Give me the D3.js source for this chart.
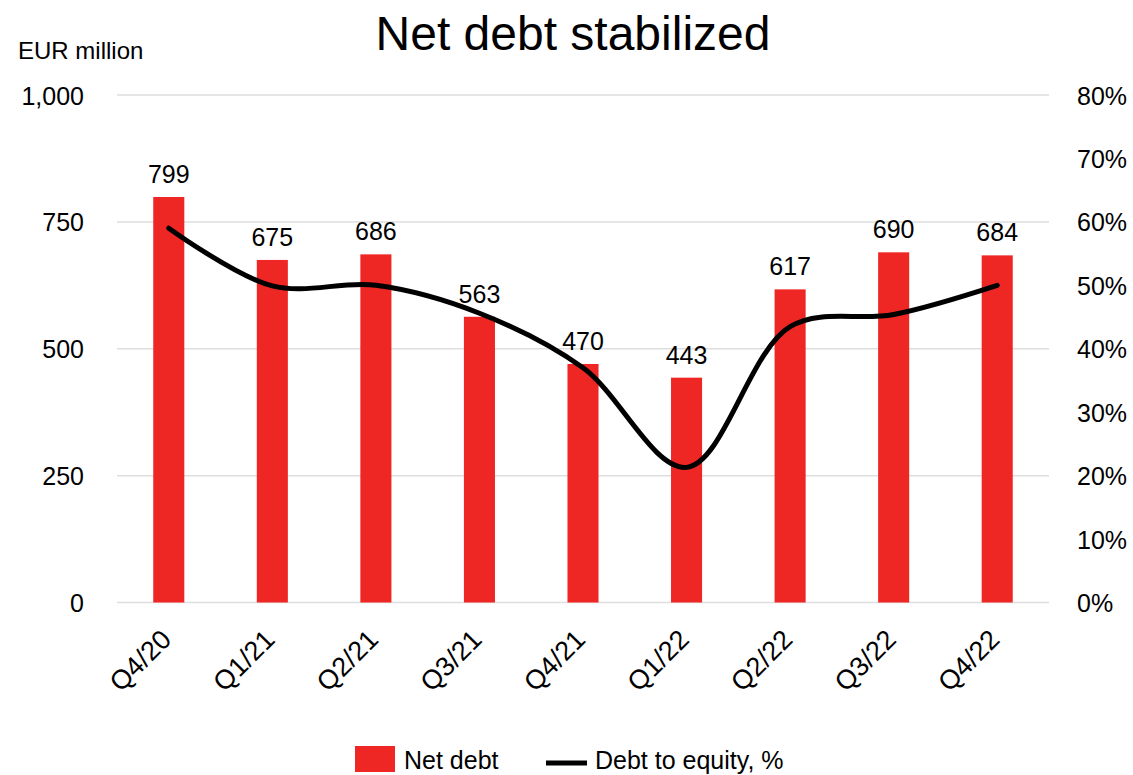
<!DOCTYPE html>
<html>
<head>
<meta charset="utf-8">
<script src="https://cdn.jsdelivr.net/npm/d3@7"></script>
<style>
  html, body { margin: 0; padding: 0; background: #fff; }
  text { font-family: "Liberation Sans", Arial, sans-serif; fill: #000; }
</style>
</head>
<body>
<svg id="chart" width="1133" height="775"></svg>
<script>
const categories = ["Q4/20","Q1/21","Q2/21","Q3/21","Q4/21","Q1/22","Q2/22","Q3/22","Q4/22"];
const netDebt = [799, 675, 686, 563, 470, 443, 617, 690, 684];
const debtToEquity = [59.0, 49.9, 50.0, 45.6, 37.0, 21.3, 43.5, 45.4, 50.0];
const leftTicks = [0, 250, 500, 750, 1000];
const rightTicks = [0, 10, 20, 30, 40, 50, 60, 70, 80];
const title = "Net debt stabilized";
const unitLabel = "EUR million";
const legendLabels = ["Net debt", "Debt to equity, %"];

const RED = "#ee2724";
const svg = d3.select("#chart");

const x = d3.scaleBand().domain(categories).range([117, 1049]).paddingInner(0.70).paddingOuter(0.35);
const yL = d3.scaleLinear().domain([0, 1000]).range([602.5, 95]);
const yR = d3.scaleLinear().domain([0, 80]).range([602.5, 95]);

// title
svg.append("text").attr("x", 573).attr("y", 50).attr("text-anchor", "middle")
  .style("font-size", "48px").text(title);
svg.append("text").attr("x", 18).attr("y", 59).style("font-size", "24px").text(unitLabel);

// gridlines
svg.append("g").selectAll("line").data(leftTicks).join("line")
  .attr("x1", 117).attr("x2", 1049)
  .attr("y1", d => yL(d)).attr("y2", d => yL(d))
  .attr("stroke", "#dedede").attr("stroke-width", 1.5);

// left axis
const gL = svg.append("g").attr("transform", "translate(84,0)")
  .call(d3.axisLeft(yL).tickValues(leftTicks).tickSize(0).tickPadding(0).tickFormat(d3.format(",")));
gL.select(".domain").remove();
gL.selectAll("text").style("font-size", "25px").style("font-family", "Liberation Sans, Arial, sans-serif").attr("dy", "0.36em");

// right axis
const gR = svg.append("g").attr("transform", "translate(1077,0)")
  .call(d3.axisRight(yR).tickValues(rightTicks).tickSize(0).tickPadding(0).tickFormat(d => d + "%"));
gR.select(".domain").remove();
gR.selectAll("text").style("font-size", "25px").style("font-family", "Liberation Sans, Arial, sans-serif").attr("dy", "0.36em");

// bars
svg.append("g").selectAll("rect").data(categories).join("rect")
  .attr("x", d => x(d)).attr("width", x.bandwidth())
  .attr("y", (d, i) => yL(netDebt[i])).attr("height", (d, i) => yL(0) - yL(netDebt[i]))
  .attr("fill", RED);

// line
const line = d3.line()
  .x((d, i) => x(categories[i]) + x.bandwidth() / 2)
  .y(d => yR(d))
  .curve(d3.curveCatmullRom.alpha(0.5));
svg.append("path").datum(debtToEquity).attr("d", line)
  .attr("fill", "none").attr("stroke", "#000").attr("stroke-width", 5).attr("stroke-linecap", "round");

// data labels
svg.append("g").selectAll("text").data(categories).join("text")
  .attr("x", d => x(d) + x.bandwidth() / 2)
  .attr("y", (d, i) => yL(netDebt[i]) - 14)
  .attr("text-anchor", "middle").style("font-size", "25px")
  .text((d, i) => netDebt[i]);

// category labels
svg.append("g").selectAll("text").data(categories).join("text")
  .attr("text-anchor", "end")
  .attr("transform", d => `translate(${x(d) + x.bandwidth() / 2 + 4},${641}) rotate(-45)`)
  .style("font-size", "27px").text(d => d);

// legend
const lg = svg.append("g");
lg.append("rect").attr("x", 355).attr("y", 746).attr("width", 40).attr("height", 26).attr("fill", RED);
lg.append("text").attr("x", 404).attr("y", 769).style("font-size", "25px").text(legendLabels[0]);
lg.append("line").attr("x1", 546).attr("x2", 587).attr("y1", 763).attr("y2", 763).attr("stroke", "#000").attr("stroke-width", 5);
lg.append("text").attr("x", 595).attr("y", 769).style("font-size", "25px").text(legendLabels[1]);
</script>
</body>
</html>
